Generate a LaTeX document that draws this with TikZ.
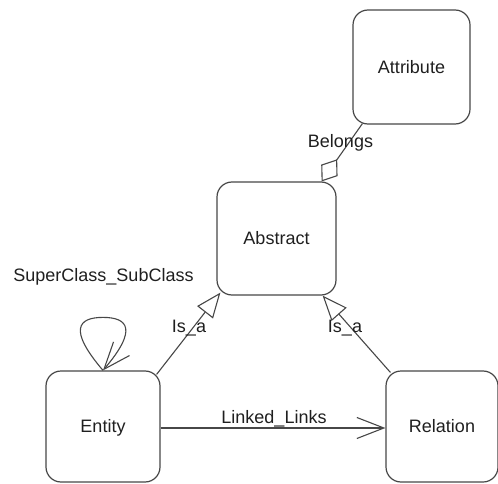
\documentclass[tikz,border=0pt]{standalone}
\usepackage{fontspec}
\setmainfont{Liberation Sans}
\usetikzlibrary{arrows.meta,calc}

\begin{document}
\begin{tikzpicture}[x=1pt,y=-1pt,
  every node/.style={font=\fontsize{18}{20}\selectfont, text=black!88},
  cls/.style={draw=black!72, line width=1.2pt, rounded corners=15pt,
    text height=12.9pt, text depth=0pt},
  link/.style={draw=black!72, line width=1.1pt},
  lbl/.style={anchor=base, inner sep=0pt},
  gen/.style={-{Triangle[open,length=25pt,width=20pt]}},
  agg/.style={{Diamond[open,length=27pt,width=20pt]}-},
  assoc/.style={-{Straight Barb[length=27pt,width=21pt]}}
]
\useasboundingbox (0,0) rectangle (498,484);

% classes
\node[cls, minimum width=117pt, minimum height=114pt] (attr) at (411.5,67)   {Attribute};
\node[cls, minimum width=119pt, minimum height=113pt] (abs)  at (276.5,238.5) {Abstract};
\node[cls, minimum width=114pt, minimum height=111pt] (ent)  at (103,426.5)  {Entity};
\node[cls, minimum width=112pt, minimum height=111pt] (rel)  at (442,426.5)  {Relation};

% aggregation Abstract <>-- Attribute
\draw[link, agg] ($(abs.north east)+(-15,0)$) -- ($(attr.south west)+(10,-1)$);
\node[lbl] (lbelongs) at (340.5,148) {Belongs};

% generalisations
\draw[link, gen] ($(ent.north east)+(-4,4)$) -- ($(abs.south west)+(4,-3)$);
\node[lbl] (lisa1) at (189,332.5) {Is\_a};
\draw[link, gen] ($(rel.north west)+(5,2)$) -- ($(abs.south east)+(-14,0)$);
\node[lbl] (lisa2) at (345,332) {Is\_a};

% association Entity -> Relation
\draw[link, assoc] (ent.east |- 0,428) -- (rel.west |- 0,428);
\node[lbl] (llinked) at (274,423) {Linked\_Links};

% self association on Entity: a teardrop loop over the top edge
\coordinate (looptop) at ($(ent.north)+(0,-53)$);
\draw[link, assoc] (ent.north) .. controls +(-35,-41) and +(-25,0) .. (looptop)
  .. controls +(25,0) and +(35,-41) .. (ent.north);
\node[lbl] (lsuper) at (103.5,281) {SuperClass\_SubClass};
\end{tikzpicture}
\end{document}
